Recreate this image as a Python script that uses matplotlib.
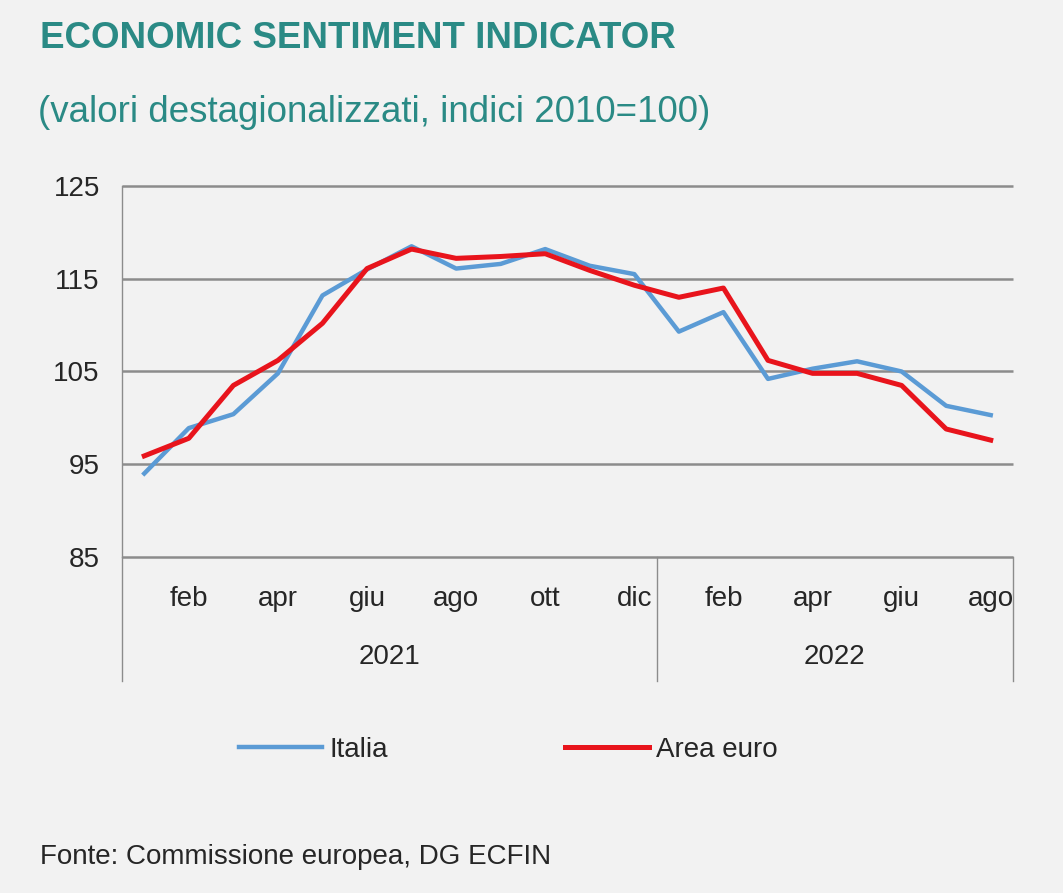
import matplotlib
matplotlib.use('Agg')
from matplotlib import pyplot as plt
import matplotlib.transforms as mtransforms
import numpy as np

plt.rcParams['font.family'] = ['Liberation Sans', 'DejaVu Sans']

months = ['gen', 'feb', 'mar', 'apr', 'mag', 'giu', 'lug', 'ago', 'set', 'ott', 'nov', 'dic',
          'gen', 'feb', 'mar', 'apr', 'mag', 'giu', 'lug', 'ago']
years = ['2021', '2022']
year_len = [12, 8]

italia = [94.0, 98.9, 100.4, 104.8, 113.2, 116.0, 118.5, 116.1, 116.6, 118.2, 116.4, 115.5,
          109.3, 111.4, 104.2, 105.3, 106.1, 105.0, 101.3, 100.3]
area_euro = [95.9, 97.8, 103.5, 106.2, 110.2, 116.1, 118.2, 117.2, 117.4, 117.7, 115.9, 114.3,
             113.0, 114.0, 106.2, 104.8, 104.8, 103.5, 98.8, 97.6]

teal = '#2a8a85'
bg = '#f2f2f2'
grid = '#8c8c8c'
txt = '#262626'

fig = plt.figure(figsize=(10.63, 8.93), dpi=100, facecolor=bg)
ax = fig.add_axes([122/1063, 1-557/893, (1013-122)/1063, (557-186)/893])
ax.set_facecolor(bg)

x = np.arange(len(months))
ax.plot(x, italia, color='#5b9bd5', lw=3.2, label='Italia')
ax.plot(x, area_euro, color='#e8141c', lw=3.6, label='Area euro')

ax.set_xlim(-0.5, len(months)-0.5)
ax.set_ylim(85, 125)
ax.set_yticks([85, 95, 105, 115, 125])
ax.yaxis.grid(True, color=grid, lw=1.8)
for gl in ax.get_ygridlines():
    gl.set_clip_on(False)
    gl.set_solid_capstyle('butt')
ax.set_axisbelow(True)
for s in ['top', 'right', 'bottom']:
    ax.spines[s].set_visible(False)
ax.spines['left'].set_color(grid)
ax.spines['left'].set_linewidth(1.0)
ax.tick_params(axis='y', length=0, pad=16, labelsize=20, labelcolor=txt)
ax.tick_params(axis='x', length=0, pad=21, labelsize=20, labelcolor=txt)

ax.set_xticks(x[1::2])
ax.set_xticklabels(months[1::2])

# year groups and separators
trans = mtransforms.blended_transform_factory(ax.transData, ax.transAxes)
start = 0
edges = [-0.5]
for yr, n in zip(years, year_len):
    ax.text(start + n/2 - 0.5, -0.27, yr, transform=trans, ha='center', va='center',
            fontsize=20, color=txt)
    start += n
    edges.append(start - 0.5)
for e in edges:
    ax.plot([e, e], [0, -0.335], transform=trans, color=grid, lw=1.0, clip_on=False)

fig.text(40/1063, 1-38/893, 'ECONOMIC SENTIMENT INDICATOR', color=teal, fontsize=26.5,
         fontweight='bold', ha='left', va='center')
fig.text(38/1063, 1-112/893, '(valori destagionalizzati, indici 2010=100)', color=teal,
         fontsize=26.5, ha='left', va='center')

fig.legend(loc='center', bbox_to_anchor=(0.478, 1-750/893), ncol=2, frameon=False,
           fontsize=20, handlelength=3.0, handletextpad=0.25, columnspacing=6.4)
for t in fig.legends[0].get_texts():
    t.set_color(txt)

fig.text(40/1063, 1-857/893, 'Fonte: Commissione europea, DG ECFIN', color=txt,
         fontsize=20, ha='left', va='center')

fig.savefig('out.png', dpi=100, facecolor=bg)
